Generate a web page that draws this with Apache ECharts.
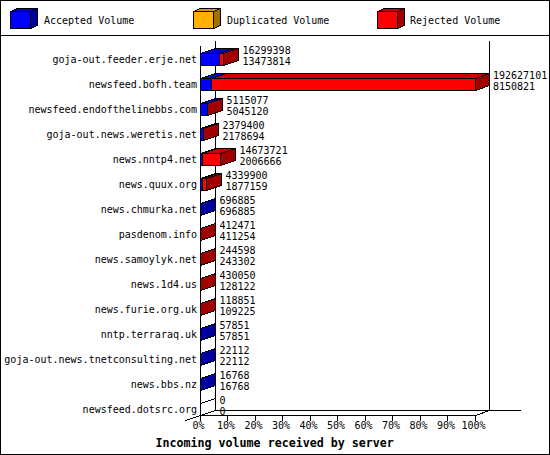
<!DOCTYPE html>
<html><head><meta charset="utf-8">
<style>html,body{margin:0;padding:0;background:#fff}#c{width:550px;height:455px}
svg path,svg rect,svg line,svg polygon,svg polyline{shape-rendering:crispEdges}</style>
<script src="https://cdn.jsdelivr.net/npm/echarts@6/dist/echarts.min.js"></script>
</head><body><div id="c"></div>
<script>
const categories = ["goja-out.feeder.erje.net","newsfeed.bofh.team","newsfeed.endofthelinebbs.com","goja-out.news.weretis.net","news.nntp4.net","news.quux.org","news.chmurka.net","pasdenom.info","news.samoylyk.net","news.1d4.us","news.furie.org.uk","nntp.terraraq.uk","goja-out.news.tnetconsulting.net","news.bbs.nz","newsfeed.dotsrc.org"];
const offered = [16299398,192627101,5115077,2379400,14673721,4339900,696885,412471,244598,430050,118851,57851,22112,16768,0];
const accepted = [13473814,8150821,5045120,2178694,2006666,1877159,696885,411254,243302,128122,109225,57851,22112,16768,0];
const legendNames = ["Accepted Volume","Duplicated Volume","Rejected Volume"];
const xTickValues = [0,10,20,30,40,50,60,70,80,90,100];
const xTitle = "Incoming volume received by server";

const FONT = '"DejaVu Sans Mono"';
const palette = {
  blue:{front:'#0000ff',top:'#0000d0',side:'#0000a0'},
  orange:{front:'#ffb000',top:'#d89400',side:'#a07000'},
  red:{front:'#ff0000',top:'#d00000',side:'#a00000'}
};
const DX=15, DY=5, HALF=6;
const maxVol = Math.max.apply(null,offered);
const pct = v => v/maxVol*100;
const px = v => Math.floor(v)+0.5;

function box(x0,x1,yc,col,empty,backLimit){
  const t=px(yc)-HALF, b=px(yc)+HALF, l=px(x0), r=px(x1);
  const rb=Math.min(r+DX,backLimit);
  const st={stroke:'#000',lineWidth:1};
  const poly=(pts,fill)=>({type:'polygon',shape:{points:pts},style:Object.assign({fill:empty?'none':fill},st)});
  return [
    poly([[l,t],[r,t],[r,b],[l,b]],col.front),
    poly([[l,t],[r,t],[rb,t-DY],[l+DX,t-DY]],col.top),
    poly([[r,t],[rb,t-DY],[rb,b-DY],[r,b]],col.side)
  ];
}
function boxSeries(name,col,rows){
  return {type:'custom',name,coordinateSystem:'cartesian2d',clip:false,silent:true,
    encode:{x:[0,1],y:2},data:rows,
    renderItem(params,api){
      const a=api.value(0),b=api.value(1),i=api.value(2);
      const isZeroRow = offered[i]===0;
      if(a===b && !isZeroRow) return null;
      const p0=api.coord([a,i]),p1=api.coord([b,i]);
      const limit=px(api.coord([100,i])[0])+DX-1;
      return {type:'group',children:box(p0[0],p1[0],p0[1],col,isZeroRow,limit)};
    }};
}
const acceptedRows = accepted.map((v,i)=>[0,pct(v),i]);
const rejectedRows = offered.map((v,i)=>[pct(accepted[i]),pct(v),i]);
const labelRows = offered.map((v,i)=>[pct(v),i,v,accepted[i]]);

const wallSeries={type:'custom',name:'walls',coordinateSystem:'cartesian2d',clip:false,silent:true,
  encode:{x:0,y:1},data:[[100,0]],
  renderItem(params,api){
    const cs=params.coordSys;
    const l=px(api.coord([0,0])[0]), r=px(api.coord([100,0])[0]);
    const floor=px(cs.y+cs.height-6), top=floor-370;
    const ln=(x1,y1,x2,y2)=>({type:'line',shape:{x1,y1,x2,y2},style:{stroke:'#000',lineWidth:1}});
    return {type:'group',children:[
      ln(l,top,l,floor+5),
      ln(l+DX,top-DY,l+DX,floor-DY),
      ln(r+DX-1,top-DY,r+DX-1,floor-DY),
      ln(l-DX,floor+DY,l+DX,floor-DY),
      ln(l+DX,floor-DY,r+45,floor-DY),
      ln(r,floor,r+DX-1,floor-DY)
    ]};
  }};
const labelSeries={type:'custom',name:'labels',coordinateSystem:'cartesian2d',clip:false,silent:true,
  encode:{x:0,y:1},data:labelRows,
  renderItem(params,api){
    const p=api.coord([api.value(0),api.value(1)]);
    const x=Math.min(px(p[0])+DX+4,493);
    const t=(s,y)=>({type:'text',style:{x,y,text:String(s),fill:'#000',font:'10px '+FONT,textAlign:'left',textVerticalAlign:'middle'}});
    return {type:'group',children:[t(api.value(2),p[1]-9),t(api.value(3),p[1]+2)]};
  }};

function legendCube(x,col,label,tx){
  const l=x+.5,r=x+20.5,t=11.5,b=28.5,dx=7,dy=3;
  const st={stroke:'#000',lineWidth:1};
  return [
    {type:'polygon',shape:{points:[[l,t],[r,t],[r,b],[l,b]]},style:Object.assign({fill:col.front},st)},
    {type:'polygon',shape:{points:[[l,t],[r,t],[r+dx,t-dy],[l+dx,t-dy]]},style:Object.assign({fill:col.top},st)},
    {type:'polygon',shape:{points:[[r,t],[r+dx,t-dy],[r+dx,b-dy],[r,b]]},style:Object.assign({fill:col.side},st)},
    {type:'text',style:{x:tx,y:20,text:label,fill:'#000',font:'10px '+FONT,textVerticalAlign:'middle'}}
  ];
}
const chart=echarts.init(document.getElementById('c'),null,{renderer:'svg',width:550,height:455});
chart.setOption({
  animation:false,backgroundColor:'#fff',
  title:{text:xTitle,left:155.5,top:436,padding:0,textStyle:{fontFamily:FONT,fontSize:11.65,fontWeight:'bold',color:'#000',lineHeight:13}},
  grid:{left:200,top:46.5,width:275,height:375},
  xAxis:{type:'value',min:0,max:100,interval:10,offset:-6,
    axisLine:{show:true,lineStyle:{color:'#000',width:1}},
    axisTick:{show:true,length:5,lineStyle:{color:'#000'}},
    splitLine:{show:false},
    axisLabel:{formatter:v=>xTickValues.includes(v)?v+'%':'',fontFamily:FONT,fontSize:10,color:'#000',margin:5,padding:[0,3,0,0],showMinLabel:true,showMaxLabel:true,hideOverlap:false}},
  yAxis:{type:'category',inverse:true,data:categories,
    axisLine:{show:false},axisTick:{show:false},
    axisLabel:{fontFamily:FONT,fontSize:10,color:'#000',margin:3,interval:0}},
  series:[
    wallSeries,
    boxSeries(legendNames[0],palette.blue,acceptedRows),
    boxSeries(legendNames[1],palette.orange,[]),
    boxSeries(legendNames[2],palette.red,rejectedRows),
    labelSeries
  ],
  graphic:{elements:[
    {type:'rect',silent:true,z:-1,shape:{x:.5,y:.5,width:549,height:454},style:{fill:'none',stroke:'#000',lineWidth:1}},
    {type:'line',silent:true,shape:{x1:0,y1:35.5,x2:550,y2:35.5},style:{stroke:'#000',lineWidth:1}},
    {type:'group',silent:true,children:[]
      .concat(legendCube(10,palette.blue,legendNames[0],44))
      .concat(legendCube(193,palette.orange,legendNames[1],227))
      .concat(legendCube(377,palette.red,legendNames[2],410))}
  ]}
});
</script></body></html>
